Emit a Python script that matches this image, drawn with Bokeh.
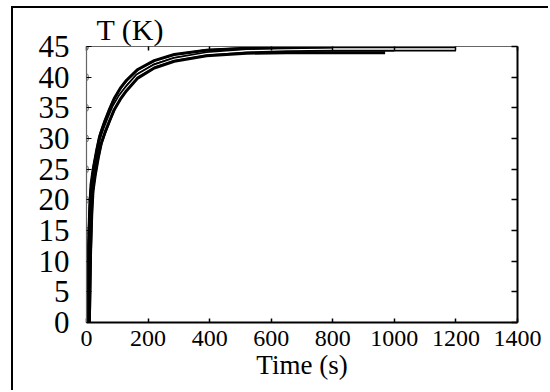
from bokeh.plotting import figure
from bokeh.models import Range1d, LinearAxis, FixedTicker, Title, CustomJSTickFormatter
from bokeh.embed import file_html
from bokeh.resources import INLINE

# ---- data ----
x_ticks = [0, 200, 400, 600, 800, 1000, 1200, 1400]
y_ticks = [0, 5, 10, 15, 20, 25, 30, 35, 40, 45]

t_run1 = [6, 10, 14, 18, 25, 35, 45, 60, 75, 90, 110, 130, 165, 220, 285, 390, 520, 650, 800, 1000, 1200]
T_run1 = [0, 12.5, 19, 22.5, 25, 27.7, 30.1, 32.3, 34.2, 36.0, 37.7, 39.0, 40.8, 42.4, 43.4, 44.2, 44.5, 44.6, 44.6, 44.6, 44.6]

t_run2 = [6, 10, 14, 18, 25, 35, 45, 60, 75, 90, 110, 130, 165, 220, 285, 390, 520, 650, 800, 1000]
T_run2 = [0, 11.5, 18, 21.5, 24, 26.9, 29.3, 31.5, 33.4, 35.2, 36.9, 38.2, 40.2, 41.8, 42.9, 43.8, 44.3, 44.5, 44.6, 44.6]

t_run3 = [6, 10, 14, 18, 25, 35, 45, 60, 75, 90, 110, 130, 165, 220, 285, 390, 520, 650, 800, 970]
T_run3 = [0, 11, 17.5, 21, 23.5, 26.4, 28.8, 31.0, 32.9, 34.7, 36.4, 37.8, 39.8, 41.5, 42.6, 43.5, 43.9, 44.0, 44.0, 44.0]

t_run4 = [6, 10, 14, 18, 25, 35, 45, 60, 75, 90, 110, 130, 165, 220, 285, 390, 520, 650, 800]
T_run4 = [0, 13, 19.5, 23, 25.6, 28.3, 30.7, 32.9, 34.8, 36.5, 38.2, 39.5, 41.2, 42.7, 43.7, 44.4, 44.7, 44.8, 44.9]

SERIF = "'Liberation Serif', 'Times New Roman', serif"

p = figure(width=537, height=384, output_backend="svg", toolbar_location=None,
           x_range=Range1d(0, 1400), y_range=Range1d(0, 45),
           x_axis_location=None, y_axis_location=None,
           min_border_left=73, min_border_right=33, min_border_top=38, min_border_bottom=70)
p.styles = {"border-left": "2px solid black", "border-top": "2px solid black",
            "margin-left": "11px", "margin-top": "6px"}
p.xgrid.visible = False
p.ygrid.visible = False
p.outline_line_color = None
p.background_fill_color = "white"
p.border_fill_color = "white"

blank = CustomJSTickFormatter(code="return ''")

# bottom axis
xb = LinearAxis(ticker=FixedTicker(ticks=x_ticks), axis_label="Time (s)")
xb.axis_line_width = 2
xb.axis_line_color = "black"
xb.major_tick_in = 4
xb.major_tick_out = 0
xb.major_tick_line_width = 1.5
xb.minor_tick_line_color = None
xb.major_label_text_font = SERIF
xb.major_label_text_font_size = "24px"
xb.major_label_text_color = "black"
xb.major_label_standoff = 8
xb.axis_label_text_font = SERIF
xb.axis_label_text_font_size = "27px"
xb.axis_label_text_font_style = "normal"
xb.axis_label_text_color = "black"
xb.axis_label_standoff = 1
p.add_layout(xb, "below")

# left axis
yl = LinearAxis(ticker=FixedTicker(ticks=y_ticks))
yl.axis_line_width = 1.2
yl.axis_line_color = "#666666"
yl.major_tick_in = 5
yl.major_tick_out = 0
yl.major_tick_line_width = 1
yl.major_tick_line_color = "black"
yl.minor_tick_line_color = None
yl.major_label_text_font = SERIF
yl.major_label_text_font_size = "31px"
yl.major_label_text_color = "black"
yl.major_label_text_align = "center"
yl.major_label_standoff = 17
p.add_layout(yl, "left")

# right axis (no labels)
yr = LinearAxis(ticker=FixedTicker(ticks=y_ticks), formatter=blank)
yr.axis_line_width = 2
yr.axis_line_color = "black"
yr.major_tick_in = 6
yr.major_tick_out = 0
yr.major_tick_line_width = 1.5
yr.minor_tick_line_color = None
yr.major_label_standoff = 0
p.add_layout(yr, "right")

# top axis (no labels)
xt = LinearAxis(ticker=FixedTicker(ticks=x_ticks), formatter=blank)
xt.axis_line_width = 1.2
xt.axis_line_color = "#666666"
xt.major_tick_in = 4
xt.major_tick_out = 0
xt.major_tick_line_width = 1.5
xt.major_tick_line_color = "black"
xt.minor_tick_line_color = None
xt.major_label_standoff = 0
xt.major_label_text_font_size = "1px"
p.add_layout(xt, "above")

# small gray oval marks on the left axis at each tick
p.ellipse(x=[x_ticks[0]] * len(y_ticks), y=y_ticks, width=4, height=7,
          width_units="screen", height_units="screen",
          fill_color="#dddddd", line_color="#777777", line_width=1)

# hollow (double-line) runs
for t, T in [(t_run1, T_run1), (t_run2, T_run2)]:
    p.line(t, T, line_color="black", line_width=5)
    p.line(t, T, line_color="white", line_width=1.5)

# solid runs
p.line(t_run3, T_run3, line_color="black", line_width=3)
p.line(t_run4, T_run4, line_color="black", line_width=3)

ttl = Title(text="T (K)", align="left", offset=10, text_font=SERIF,
            text_font_size="30px", text_font_style="normal", text_color="black", standoff=2)
p.add_layout(ttl, "above")

open("out.html", "w").write(file_html(p, INLINE))
